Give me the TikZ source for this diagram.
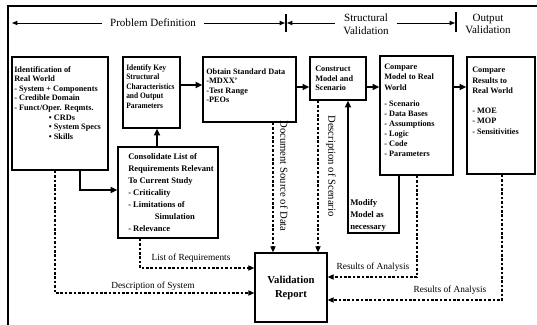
\documentclass[tikz,border=0pt]{standalone}
\usepackage{fontspec}
\setmainfont{Liberation Serif}
\newfontfamily\narrowfont{Liberation Serif}[FakeStretch=0.9]
\usetikzlibrary{arrows.meta,fit}
\begin{document}
\begin{tikzpicture}[x=0.75pt,y=-0.75pt,
  box/.style={draw,line width=1.1pt,inner sep=0pt},
  txt/.style={anchor=north west,inner sep=0pt,align=left,font=\fontsize{6.2}{7.2}\selectfont\bfseries},
  lbl/.style={inner sep=0pt,font=\fontsize{7}{8}\selectfont},
  vlbl/.style={inner sep=0pt,rotate=-90,font=\fontsize{8}{9}\selectfont},
  hdr/.style={inner sep=0pt,align=center,font=\fontsize{8.3}{9.6}\selectfont},
  sol/.style={line width=1.2pt,-{Triangle[length=5pt,width=4.5pt]}},
  dsh/.style={line width=0.8pt,dash pattern=on 2pt off 1.3pt,-{Triangle[length=4.5pt,width=4pt]}},
  harr/.style={line width=0.7pt,-{Triangle[length=4pt,width=3.2pt]}},
]
\useasboundingbox (0,0) rectangle (537,325);
% frame
\draw[line width=1pt] (537,6) -- (8,6) -- (8,325);
% header
\node[hdr] (pd) at (153,23) {Problem Definition};
\node[hdr] (sv) at (366,24) {Structural\\Validation};
\node[hdr] (ov) at (488,24) {Output\\Validation};
\coordinate (hL) at (12,23);
\coordinate (t1) at (285,23);
\coordinate (t1b) at (287,23);
\coordinate (t2) at (455,23);
\draw[harr] ([xshift=-6pt]pd.west) -- (hL);
\draw[harr] ([xshift=6pt]pd.east) -- (t1);
\draw[harr] ([xshift=-6pt]sv.west |- t1b) -- (t1b);
\draw[harr] ([xshift=6pt]sv.east |- t2) -- (t2);
\draw[line width=0.8pt] (286,14) -- (286,32);
\draw[line width=0.8pt] (456,12) -- (456,32);
% boxes
\node[box,fit={(12,57) (108,170)}] (b1) {};
\node[box,fit={(123,57) (180,128)}] (b2) {};
\node[box,fit={(203,57) (296,122)}] (b3) {};
\node[box,fit={(310,57) (366,100)}] (b4) {};
\node[box,fit={(380,56) (453,175)}] (b5) {};
\node[box,fit={(467,57) (535,174)}] (b6) {};
\node[box,fit={(118,147) (218,238)}] (b7) {};
\node[box,fit={(255,253) (327,322)}] (b8) {};
% box texts
\node[txt] (t-b1) at (14,66) {Identification of\\Real World\\- System + Components\\- Credible Domain\\- Funct/Oper. Reqmts.\\\hspace*{26pt}• CRDs\\\hspace*{26pt}• System Specs\\\hspace*{26pt}• Skills};
\node[txt,font=\fontsize{6.2}{7.2}\selectfont\narrowfont\bfseries] (t-b2) at (126,64) {Identify Key\\Structural\\Characteristics\\and Output\\Parameters};
\node[txt] (t-b3) at (206,68) {Obtain Standard Data\\-MDXX'\\-Test Range\\-PEOs};
\node[txt] (t-b4) at (315,66) {Construct\\Model and\\Scenario};
\node[txt,font=\fontsize{6.2}{7.6}\selectfont\bfseries] (t-b5) at (384,64) {Compare\\Model to Real\\World\\[4.5pt]- Scenario\\- Data Bases\\- Assumptions\\- Logic\\- Code\\- Parameters};
\node[txt,font=\fontsize{6.2}{7.8}\selectfont\bfseries] (t-b6) at (472,67) {Compare\\Results to\\Real World\\[7pt]- MOE\\- MOP\\- Sensitivities};
\node[txt,font=\fontsize{6.4}{9}\selectfont\bfseries] (t-b7) at (128,153) {Consolidate List of\\Requirements Relevant\\To Current Study\\- Criticality\\- Limitations of\\\hspace*{20pt}Simulation\\- Relevance};
\node[txt,font=\fontsize{6.5}{9}\selectfont\bfseries] (t-mod) at (350,199) {Modify\\Model as\\necessary};
\node[inner sep=0pt,align=center,font=\fontsize{8}{11}\selectfont\bfseries] (t-b8) at (291,288) {Validation\\Report};
% solid connectors
\coordinate (r1) at (0,85);
\coordinate (r2) at (0,87);
\draw[sol] (b2.east |- r1) -- (b3.west |- r1);
\draw[sol] (b3.east |- r2) -- (b4.west |- r2);
\draw[sol] (b4.east |- r2) -- (b5.west |- r2);
\draw[sol] (b5.east |- r2) -- (b6.west |- r2);
\coordinate (c17) at (80,190);
\draw[sol] (b1.south -| c17) |- (b7.west |- c17);
\coordinate (c72) at (157,0);
\draw[sol] (b7.north -| c72) -- (b2.south -| c72);
\coordinate (mR) at (399,233);
\coordinate (mL) at (348,233);
\draw[sol] (b5.south -| mR) -- (mR) -- (mL) -- (b4.south -| mL);
% dashed connectors
\coordinate (d1) at (55,293);
\draw[dsh] (b1.south -| d1) |- (b8.west |- d1);
\coordinate (d2) at (140,268);
\draw[dsh] (b7.south -| d2) |- (b8.west |- d2);
\coordinate (d3) at (273,0);
\draw[dsh] (b3.south -| d3) -- (b8.north -| d3);
\coordinate (d4) at (318,0);
\draw[dsh] (b4.south -| d4) -- (b8.north -| d4);
\coordinate (d5) at (417,277);
\draw[dsh] (b5.south -| d5) |- (b8.east |- d5);
\coordinate (d6) at (502,300);
\draw[dsh] (b6.south -| d6) |- (b8.east |- d6);
% labels
\node[lbl] (l1) at (153,286) {Description of System};
\node[lbl] (l2) at (191,258) {List of Requirements};
\node[vlbl] (l3) at (284,176) {Document Source of Data};
\node[vlbl] (l4) at (331,166) {Description of Scenario};
\node[lbl] (l5) at (373,267) {Results of Analysis};
\node[lbl] (l6) at (450,290) {Results of Analysis};
\end{tikzpicture}
\end{document}
